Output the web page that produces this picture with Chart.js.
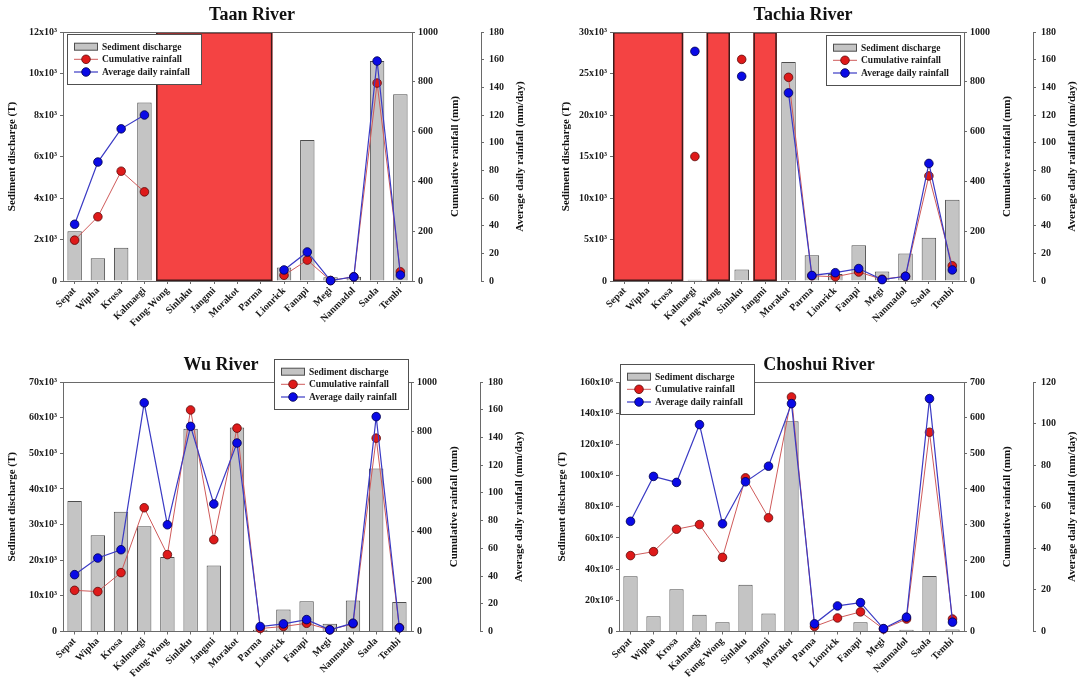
<!DOCTYPE html>
<html><head><meta charset="utf-8">
<script src="https://cdn.jsdelivr.net/npm/chart.js@4.4.1/dist/chart.umd.min.js"></script>
<style>
html,body{margin:0;padding:0;background:#fff;}
#wrap{position:relative;width:1084px;height:679px;overflow:hidden;background:#fff;}
canvas{position:absolute;}
</style></head><body>
<div id="wrap">
<canvas id="c1" width="540" height="340" style="left:0;top:0"></canvas>
<canvas id="c2" width="544" height="340" style="left:540px;top:0"></canvas>
<canvas id="c3" width="540" height="339" style="left:0;top:340px"></canvas>
<canvas id="c4" width="544" height="339" style="left:540px;top:340px"></canvas>
</div>
<script>
// ---------- DATA ----------
const categories = ['Sepat','Wipha','Krosa','Kalmaegi','Fung-Wong','Sinlaku','Jangmi','Morakot','Parma','Lionrick','Fanapi','Megi','Nanmadol','Saola','Tembi'];
const seriesNames = ['Sediment discharge','Cumulative rainfall','Average daily rainfall'];
const axisTitles = ['Sediment discharge (T)','Cumulative rainfall (mm)','Average daily rainfall (mm/day)'];

const taanSediment   = [2400,1100,1600,8600,null,null,null,null,null,650,6800,180,200,10600,9000];
const taanCumulative = [164,258,441,358,null,null,null,null,null,23,84,2,17,795,37];
const taanAverage    = [41,86,110,120,null,null,null,null,null,8,21,0.3,3,159,4.3];
const taanMissing    = [['Fung-Wong','Parma']];
const taanSedimentTicks = ['0','2x10³','4x10³','6x10³','8x10³','10x10³','12x10³'];
const taanSedimentRange = [0,12000,2000];

const tachiaSediment   = [null,null,null,150,null,1400,null,26400,3100,850,4300,1150,3300,5200,9800];
const tachiaCumulative = [null,null,null,500,null,890,null,818,21,17,36,7,19,422,61];
const tachiaAverage    = [null,null,null,166,null,148,null,136,4,6,9,1,3.4,85,8];
const tachiaMissing    = [['Sepat','Krosa'],['Fung-Wong','Fung-Wong'],['Jangmi','Jangmi']];
const tachiaSedimentTicks = ['0','5x10³','10x10³','15x10³','20x10³','25x10³','30x10³'];
const tachiaSedimentRange = [0,30000,5000];

const wuSediment   = [36600,27000,33600,29500,20900,56900,18500,57200,500,6200,8500,2200,8700,45700,8300];
const wuCumulative = [165,160,236,496,308,888,368,815,12,20,33,7,31,775,15];
const wuAverage    = [41,53,59,165,77,148,92,136,3.6,5.5,8.6,1.2,6,155,2.6];
const wuMissing    = [];
const wuSedimentTicks = ['0','10x10³','20x10³','30x10³','40x10³','50x10³','60x10³','70x10³'];
const wuSedimentRange = [0,70000,10000];

const choshuiSediment   = [35.4e6,9.8e6,27.1e6,10.7e6,6.0e6,29.9e6,11.5e6,134.8e6,0,0,6.0e6,0,1.1e6,35.6e6,1.3e6];
const choshuiCumulative = [213,224,287,300,208,431,319,658,14,38,55,7,35,559,35];
const choshuiAverage    = [53,74.6,71.7,99.5,51.8,72,79.5,109.6,3.7,12.3,13.9,1.4,6.9,112,4.5];
const choshuiMissing    = [];
const choshuiSedimentTicks = ['0','20x10⁶','40x10⁶','60x10⁶','80x10⁶','100x10⁶','120x10⁶','140x10⁶','160x10⁶'];
const choshuiSedimentRange = [0,160e6,20e6];

const cumulativeTicks1000 = ['0','200','400','600','800','1000'];
const cumulativeRange1000 = [0,1000,200];
const cumulativeTicks700 = ['0','100','200','300','400','500','600','700'];
const cumulativeRange700 = [0,700,100];
const averageTicks180 = ['0','20','40','60','80','100','120','140','160','180'];
const averageRange180 = [0,180,20];
const averageTicks120 = ['0','20','40','60','80','100','120'];
const averageRange120 = [0,120,20];

// ---------- STYLE ----------
const FONT = "'Liberation Serif','Times New Roman',serif";
Chart.defaults.font.family = FONT;
Chart.defaults.font.weight = 'bold';
Chart.defaults.font.size = 10;
Chart.defaults.color = '#1a1a1a';
const AXIS = '#6a6a6a';
const BAR_FILL = '#c4c4c4', BAR_EDGE = '#4d4d4d';
const RED_LINE = '#cf5a5a', RED_PT = '#de1a1a', RED_EDGE = '#5c0a0a';
const BLUE_LINE = '#3a3ac4', BLUE_PT = '#0a0ae6', BLUE_EDGE = '#00004a';
const MISS_FILL = '#f44343', MISS_EDGE = '#3d1a1a';

const deco = {
  id: 'deco',
  beforeDatasetsDraw(chart, args, o) {
    const {ctx, chartArea: a, scales: {x}} = chart;
    const half = (x.getPixelForValue(1) - x.getPixelForValue(0)) / 2;
    ctx.save();
    (o.missing || []).forEach(([s, e]) => {
      const x0 = x.getPixelForValue(categories.indexOf(s)) - half;
      const x1 = x.getPixelForValue(categories.indexOf(e)) + half;
      ctx.fillStyle = MISS_FILL;
      ctx.fillRect(x0, a.top, x1 - x0, a.bottom - a.top);
      ctx.strokeStyle = MISS_EDGE; ctx.lineWidth = 1.5;
      ctx.strokeRect(x0 + 0.75, a.top + 0.75, x1 - x0 - 1.5, a.bottom - a.top - 1.5);
    });
    ctx.restore();
  },
  afterDatasetsDraw(chart) {
    const {ctx, chartArea: a} = chart;
    ctx.save();
    ctx.strokeStyle = AXIS; ctx.lineWidth = 1;
    ctx.beginPath();
    const y = Math.round(a.top) + 0.5;
    ctx.moveTo(a.left, y); ctx.lineTo(a.right, y);
    ctx.stroke();
    ctx.restore();
  },
  afterDraw(chart, args, o) {
    const {ctx, chartArea: a, scales} = chart;
    ctx.save();
    ctx.fillStyle = '#111';
    ctx.textAlign = 'center'; ctx.textBaseline = 'middle';
    ctx.font = 'bold 18px ' + FONT;
    ctx.fillText(o.title, o.titleX, o.titleY);
    // axis titles
    ctx.font = 'bold 11px ' + FONT;
    const midY = (a.top + a.bottom) / 2;
    const rot = (txt, x) => { ctx.save(); ctx.translate(x, midY); ctx.rotate(-Math.PI / 2); ctx.fillText(txt, 0, 0); ctx.restore(); };
    rot(axisTitles[0], o.leftTitleX);
    rot(axisTitles[1], scales.y2.left + 43);
    rot(axisTitles[2], scales.y3.left + 39);
    // legend
    const lx = o.legendX, ly = o.legendY, lw = 134, lh = 50;
    ctx.fillStyle = '#fff'; ctx.fillRect(lx, ly, lw, lh);
    ctx.strokeStyle = '#505050'; ctx.lineWidth = 1;
    ctx.strokeRect(Math.round(lx) + 0.5, Math.round(ly) + 0.5, lw, lh);
    const rows = [12.7, 25.3, 38];
    ctx.textAlign = 'left'; ctx.font = 'bold 9.5px ' + FONT;
    chart.data.datasets.forEach((ds, i) => {
      const ry = ly + rows[i];
      if (ds.type === 'bar') {
        ctx.fillStyle = ds.backgroundColor; ctx.fillRect(lx + 7, ry - 3.5, 23, 7);
        ctx.strokeStyle = ds.borderColor; ctx.strokeRect(lx + 7.5, ry - 3.5, 23, 7);
      } else {
        ctx.strokeStyle = ds.borderColor; ctx.lineWidth = ds.borderWidth;
        ctx.beginPath(); ctx.moveTo(lx + 7, ry); ctx.lineTo(lx + 31, ry); ctx.stroke();
        ctx.beginPath(); ctx.arc(lx + 19, ry, ds.pointRadius, 0, Math.PI * 2);
        ctx.fillStyle = ds.pointBackgroundColor; ctx.fill();
        ctx.lineWidth = ds.pointBorderWidth; ctx.strokeStyle = ds.pointBorderColor; ctx.stroke();
      }
      ctx.fillStyle = '#1a1a1a';
      ctx.fillText(ds.label, lx + 35, ry + 0.5);
    });
    ctx.restore();
  }
};

function yAxis(pos, range, labels, weight, widthFn, pad) {
  return {
    type: 'linear', position: pos, weight: weight,
    min: range[0], max: range[1],
    ticks: {stepSize: range[2], autoSkip: false, padding: pad, callback: (v, i) => labels[i]},
    grid: {drawOnChartArea: false, drawTicks: true, tickLength: 3, color: AXIS},
    border: {display: true, color: AXIS, width: 1},
    afterFit: s => { s.width = widthFn(); }
  };
}

function drawPanel(id, d, lay) {
  const cv = document.getElementById(id);
  const cw = cv.width, ch = cv.height;
  new Chart(cv, {
    type: 'bar',
    data: {
      labels: categories,
      datasets: [
        {type: 'bar', label: seriesNames[0], data: d.sed, yAxisID: 'y', order: 3,
         backgroundColor: BAR_FILL, borderColor: BAR_EDGE, borderWidth: 1,
         barPercentage: 0.62, categoryPercentage: 1},
        {type: 'line', label: seriesNames[1], data: d.cum, yAxisID: 'y2', order: 2,
         borderColor: RED_LINE, borderWidth: 1, pointRadius: 4.3,
         pointBackgroundColor: RED_PT, pointBorderColor: RED_EDGE, pointBorderWidth: 0.8,
         tension: 0, spanGaps: false, clip: false},
        {type: 'line', label: seriesNames[2], data: d.avg, yAxisID: 'y3', order: 1,
         borderColor: BLUE_LINE, borderWidth: 1.2, pointRadius: 4.3,
         pointBackgroundColor: BLUE_PT, pointBorderColor: BLUE_EDGE, pointBorderWidth: 0.8,
         tension: 0, spanGaps: false, clip: false}
      ]
    },
    options: {
      responsive: false, animation: false, events: [],
      layout: {padding: {top: lay.t, left: 0, right: 0, bottom: 0}},
      plugins: {
        legend: {display: false}, tooltip: {enabled: false}, title: {display: false},
        deco: {missing: d.missing, title: d.title, titleX: lay.titleX, titleY: lay.titleY,
               leftTitleX: lay.leftTitleX, legendX: lay.legendX, legendY: lay.legendY}
      },
      scales: {
        x: {
          type: 'category', offset: true,
          ticks: {autoSkip: false, minRotation: 45, maxRotation: 45, padding: 1, font: {size: 10, weight: 'bold'}},
          grid: {offset: false, drawOnChartArea: false, drawTicks: true, tickLength: 3, color: AXIS},
          border: {display: true, color: AXIS, width: 1},
          afterFit: s => { s.height = ch - lay.b; }
        },
        y: yAxis('left', d.sedRange, d.sedTicks, 0, () => lay.l, 3),
        y2: yAxis('right', d.cumRange, d.cumTicks, 0, () => 69, 3),
        y3: yAxis('right', d.avgRange, d.avgTicks, 1, () => cw - lay.r - 69, 5)
      }
    },
    plugins: [deco]
  });
}

drawPanel('c1',
  {title: 'Taan River', sed: taanSediment, cum: taanCumulative, avg: taanAverage, missing: taanMissing,
   sedRange: taanSedimentRange, sedTicks: taanSedimentTicks, cumRange: cumulativeRange1000, cumTicks: cumulativeTicks1000,
   avgRange: averageRange180, avgTicks: averageTicks180},
  {l: 63, r: 412, t: 32, b: 281, titleX: 252, titleY: 15, leftTitleX: 12, legendX: 67, legendY: 34});

drawPanel('c2',
  {title: 'Tachia River', sed: tachiaSediment, cum: tachiaCumulative, avg: tachiaAverage, missing: tachiaMissing,
   sedRange: tachiaSedimentRange, sedTicks: tachiaSedimentTicks, cumRange: cumulativeRange1000, cumTicks: cumulativeTicks1000,
   avgRange: averageRange180, avgTicks: averageTicks180},
  {l: 73, r: 424, t: 32, b: 281, titleX: 263, titleY: 15, leftTitleX: 26, legendX: 286, legendY: 35});

drawPanel('c3',
  {title: 'Wu River', sed: wuSediment, cum: wuCumulative, avg: wuAverage, missing: wuMissing,
   sedRange: wuSedimentRange, sedTicks: wuSedimentTicks, cumRange: cumulativeRange1000, cumTicks: cumulativeTicks1000,
   avgRange: averageRange180, avgTicks: averageTicks180},
  {l: 63, r: 411, t: 42, b: 291.5, titleX: 221, titleY: 25, leftTitleX: 12, legendX: 274, legendY: 19});

drawPanel('c4',
  {title: 'Choshui River', sed: choshuiSediment, cum: choshuiCumulative, avg: choshuiAverage, missing: choshuiMissing,
   sedRange: choshuiSedimentRange, sedTicks: choshuiSedimentTicks, cumRange: cumulativeRange700, cumTicks: cumulativeTicks700,
   avgRange: averageRange120, avgTicks: averageTicks120},
  {l: 79, r: 424, t: 42, b: 291.5, titleX: 279, titleY: 25, leftTitleX: 22, legendX: 80, legendY: 24});
</script>
</body></html>
